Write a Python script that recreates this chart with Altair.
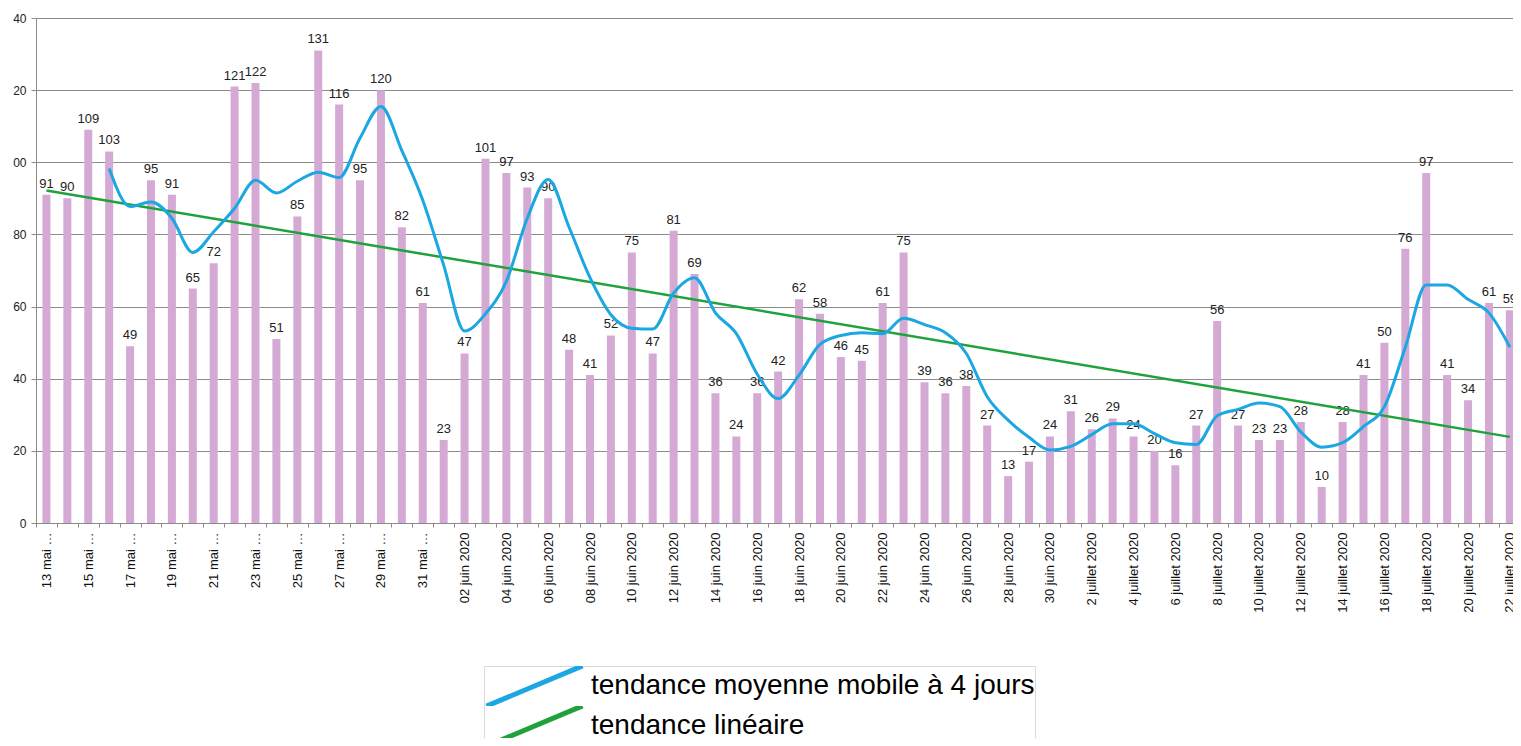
import altair as alt
import pandas as pd

# ---- data ----
may_days = list(range(13, 32))
june_days = list(range(1, 31))
july_days = list(range(1, 23))
dates = ([f"{d} mai …" for d in may_days]
         + [f"{d:02d} juin 2020" for d in june_days]
         + [f"{d} juillet 2020" for d in july_days])

values = [91, 90, 109, 103, 49, 95, 91, 65, 72, 121, 122, 51, 85, 131, 116, 95, 120, 82, 61,
          23, 47, 101, 97, 93, 90, 48, 41, 52, 75, 47, 81, 69, 36, 24, 36, 42, 62, 58, 46, 45,
          61, 75, 39, 36, 38, 27, 13, 17, 24,
          31, 26, 29, 24, 20, 16, 27, 56, 27, 23, 23, 28, 10, 28, 41, 50, 76, 97, 41, 34, 61, 59]

series_names = ["tendance moyenne mobile à 4 jours", "tendance linéaire"]
series_colors = ["#1BA7E1", "#1FA23C"]
y_ticks = [0, 20, 40, 60, 80, 100, 120, 140]

df = pd.DataFrame({"idx": list(range(len(values))), "date": dates, "value": values})

label_array = "[" + ",".join("'" + d + "'" for d in dates) + "]"

FONT = "Liberation Sans"

x_scale = alt.Scale(domain=[-0.5, 70.15], nice=False, zero=False, padding=0)
y_scale = alt.Scale(domain=[0, 140], nice=False, zero=True)

base = alt.Chart(df)

bars = base.mark_bar(size=8, color="#D4AAD4").encode(
    x=alt.X("idx:Q", scale=x_scale, title=None,
            axis=alt.Axis(values=list(range(0, len(values), 2)),
                          labelExpr=label_array + "[datum.value]",
                          labelAngle=270, ticks=False, grid=False,
                          domainColor="#8a8a8a", labelFont=FONT, labelFontSize=13,
                          labelColor="#111", labelPadding=9, orient="bottom",
                          labelOverlap=False)),
    y=alt.Y("value:Q", scale=y_scale, title=None,
            axis=alt.Axis(values=y_ticks, format="d",
                          labelExpr="datum.value >= 100 ? substring(datum.label, 1) : datum.label",
                          grid=True, gridColor="#8c8c8c", gridWidth=1,
                          domainColor="#8a8a8a", tickColor="#8a8a8a", tickSize=5,
                          labelPadding=5, labelFont=FONT, labelFontSize=12,
                          labelColor="#222")),
)

tick_layer = base.mark_point(opacity=0).encode(
    x=alt.X("idx:Q", scale=x_scale, title=None,
            axis=alt.Axis(values=[i - 0.5 for i in range(len(values))],
                          labels=False, tickSize=4, tickColor="#8a8a8a",
                          domain=False, grid=False, orient="bottom")),
    y=alt.Y("value:Q", scale=y_scale, title=None),
)

labels = base.mark_text(dy=-4, baseline="bottom", font=FONT, fontSize=13, color="#222").encode(
    x=alt.X("idx:Q", scale=x_scale, axis=None),
    y=alt.Y("value:Q", scale=y_scale, title=None),
    text="value:Q",
)

color_enc = alt.Color(
    "serie:N",
    scale=alt.Scale(domain=series_names, range=series_colors),
    legend=alt.Legend(
        title=None, orient="none", legendX=448, legendY=648,
        symbolType="M-1,0.42L1,-0.42", symbolSize=9216, symbolStrokeWidth=5,
        clipHeight=40, labelFont=FONT, labelFontSize=28, labelColor="#000",
        labelLimit=900, rowPadding=0, padding=0, labelOffset=6,
        strokeColor="#d9d9d9",
    ),
)

trend = base.transform_regression("idx", "value").transform_calculate(
    serie="'" + series_names[1] + "'"
).mark_line(strokeWidth=2.5).encode(
    x=alt.X("idx:Q", scale=x_scale, axis=None),
    y=alt.Y("value:Q", scale=y_scale, title=None),
    color=color_enc,
)

moving = base.transform_window(
    ma="mean(value)", frame=[-3, 0], sort=[alt.SortField("idx")]
).transform_filter("datum.idx >= 3").transform_calculate(
    serie="'" + series_names[0] + "'"
).mark_line(strokeWidth=3, interpolate="monotone").encode(
    x=alt.X("idx:Q", scale=x_scale, axis=None),
    y=alt.Y("ma:Q", scale=y_scale, title=None),
    color=color_enc,
)

chart = alt.layer(bars, tick_layer, labels, trend, moving).resolve_axis(
    x="independent"
).properties(
    width=1477, height=505,
    autosize=alt.AutoSizeParams(type="none"),
    padding={"left": 28, "top": 10, "right": 0, "bottom": 215},
).configure_view(stroke=None).configure(background="white")

chart.save("out.html", embed_options={"renderer": "svg", "actions": False})
